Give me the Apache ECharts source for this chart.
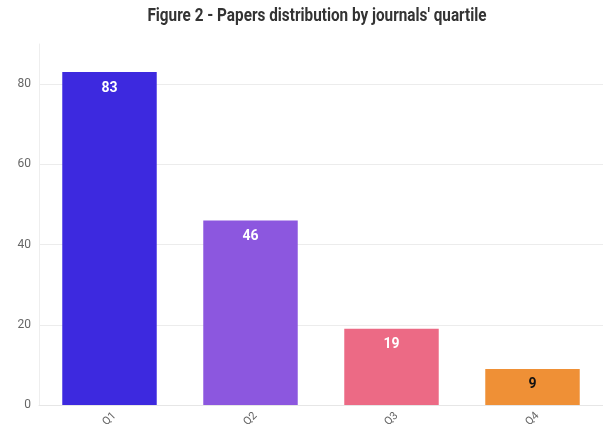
<!DOCTYPE html>
<html>
<head>
<meta charset="utf-8">
<script src="https://cdn.jsdelivr.net/npm/echarts@6/dist/echarts.min.js"></script>
<style>
  html, body { margin: 0; padding: 0; background: #fff; }
  #chart { width: 603px; height: 428px; }
</style>
</head>
<body>
<div id="chart"></div>
<script>
const quartiles = ["Q1", "Q2", "Q3", "Q4"];
const papers = [83, 46, 19, 9];
const barColors = ["#3d29df", "#8c57df", "#ec6a85", "#ef9036"];
const labelColors = ["#fff", "#fff", "#fff", "#111"];
const titleText = "Figure 2 - Papers distribution by journals' quartile";

const chart = echarts.init(document.getElementById("chart"));

const option = {
  // title drawn as a graphic text so it can be narrowed like the condensed font in the reference
  graphic: [
    {
      type: "text",
      x: 317,
      y: 7,
      scaleX: 0.85,
      style: {
        text: titleText,
        textAlign: "center",
        textVerticalAlign: "top",
        font: "bold 18px Roboto, sans-serif",
        fill: "#333",
      },
    },
  ],
  grid: { left: 39, right: 0, top: 44, bottom: 23, outerBoundsMode: "none" },
  xAxis: {
    type: "category",
    data: quartiles,
    axisLine: { lineStyle: { color: "#e6e6e6" } },
    axisTick: { alignWithLabel: true, lineStyle: { color: "#ddd" }, length: 4 },
    axisLabel: {
      rotate: 45,
      align: "center",
      verticalAlign: "middle",
      color: "#666",
      fontSize: 11,
      fontFamily: "Roboto, sans-serif",
      margin: 14,
    },
  },
  yAxis: {
    type: "value",
    min: 0,
    max: 90,
    interval: 20,
    axisLine: { show: true, lineStyle: { color: "#eee" } },
    axisTick: { show: false },
    axisLabel: {
      showMaxLabel: false,
      color: "#666",
      fontSize: 12,
      fontFamily: "Roboto, sans-serif",
      margin: 8,
    },
    splitLine: { showMaxLine: false, lineStyle: { color: "#ececec" } },
  },
  series: [
    {
      type: "bar",
      barWidth: "67%",
      data: papers.map((v, i) => ({
        value: v,
        itemStyle: { color: barColors[i] },
        label: { color: labelColors[i] },
      })),
      label: {
        show: true,
        position: "insideTop",
        distance: 9,
        fontFamily: "Roboto, sans-serif",
        fontWeight: "bold",
        fontSize: 14,
      },
    },
  ],
};

chart.setOption(option);
</script>
</body>
</html>
